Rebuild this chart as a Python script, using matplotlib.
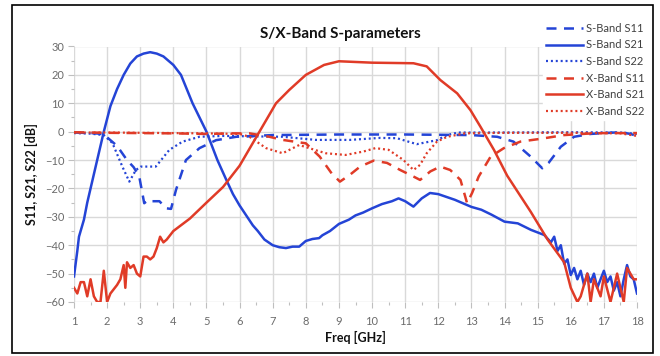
import matplotlib
matplotlib.use("Agg")
import matplotlib.pyplot as plt
from matplotlib.patches import Rectangle
from matplotlib.ticker import MultipleLocator

plt.rcParams['font.family'] = ['Lato', 'DejaVu Sans']

# ---------------- data ----------------
s21_s_f = [1.0, 1.1, 1.15, 1.3, 1.4, 1.5, 1.7, 1.9, 2.1, 2.3, 2.5, 2.7, 2.9, 3.1, 3.3, 3.5, 3.7, 3.85,
           4.0, 4.23, 4.58, 5.0, 5.33, 5.6, 5.8, 6.0, 6.2, 6.4, 6.55, 6.75, 7.0, 7.2, 7.4,
           7.6, 7.8, 8.0, 8.2, 8.4, 8.5, 8.73, 9.0, 9.3, 9.5, 9.73, 10.0, 10.3, 10.6, 10.8, 11.0, 11.25,
           11.5, 11.75, 12.0, 12.5, 13.0, 13.3, 13.6, 14.0, 14.4, 14.8, 15.2, 15.4, 15.5, 15.6, 15.7,
           15.8, 15.9, 16.0, 16.1, 16.2, 16.3, 16.4, 16.5, 16.6, 16.7, 16.8, 16.9, 17.0, 17.1, 17.2,
           17.3, 17.4, 17.5, 17.6, 17.7, 17.8, 17.9, 18.0]
s21_s_db = [-51, -42, -37, -31, -25, -20, -10, 0, 9, 15, 20, 24, 26.5, 27.5, 28, 27.5, 26.5, 25,
            23.5, 20, 10, 0, -10, -17, -22, -26, -29.5, -33, -35, -38, -40, -40.7, -41,
            -40.5, -40.5, -38.5, -37.8, -37.5, -36.5, -35, -32.5, -31, -29.5, -28.5, -27, -25.5, -24.5,
            -23.5, -24.5, -26.4, -23.5, -21.6, -22, -24, -26.5, -27.5, -29.2, -31.7, -32.3, -34.6,
            -36.4, -39, -37, -42, -40, -46.5, -45, -50.5, -48, -52, -49, -54, -50, -53, -50, -55, -52,
            -49, -53, -51, -56, -53, -58, -52, -47, -51, -52, -57]

s21_x_f = [1.0, 1.1, 1.2, 1.3, 1.4, 1.5, 1.6, 1.7, 1.8, 1.9, 2.0, 2.1, 2.3, 2.4, 2.5, 2.55, 2.6, 2.7,
           2.8, 2.9, 3.0, 3.1, 3.2, 3.3, 3.4, 3.5, 3.6, 3.7, 3.8, 4.0, 4.5, 5.0, 5.5, 6.0, 6.5, 7.1,
           7.5, 8.0, 8.55, 9.0, 10.0, 11.25, 11.65, 12.06, 12.57, 12.97, 13.27, 13.68, 14.08, 14.79,
           15.3, 15.8, 16.0, 16.2, 16.3, 16.5, 16.6, 16.7, 16.9, 17.0, 17.2, 17.4, 17.6, 17.7, 17.9, 18.0]
s21_x_db = [-55, -57, -53, -53, -58, -52, -58, -60, -60, -49, -60, -57, -54, -52, -47, -55, -46, -48,
            -47, -50, -51, -44, -44, -45, -44, -41, -37, -39, -38, -35, -30.6, -25, -19.5, -12, -2, 10,
            14.7, 20, 23.5, 24.8, 24.3, 24.1, 23, 18.2, 13.5, 7.6, 1.8, -6.4, -15.5, -28.2,
            -38, -46, -55, -60, -58, -50, -60, -52, -58, -51, -60, -50, -60, -48, -52, -52]

s11_s_f = [1.0, 1.5, 1.9, 2.0, 2.3, 2.6, 2.8, 2.97, 3.12, 3.25, 3.37, 3.58, 3.78, 3.93, 4.08, 4.38,
           4.79, 5.29, 5.9, 7.0, 9.0, 11.0, 12.0, 13.0, 13.78, 14.27, 14.79, 15.14, 15.33, 15.7,
           16.1, 16.6, 17.0, 17.5, 17.8, 18.0]
s11_s_db = [-0.3, -0.5, -0.8, -2, -5, -10, -12.5, -15.8, -25.2, -24, -24.5, -24.5, -27, -27.2, -20.5,
            -10, -5.8, -3, -1.8, -1.2, -1, -1, -1.1, -1.2, -1.8, -3.5, -8.8, -12.9, -11, -5.3,
            -1.8, -0.8, -0.5, -0.2, -0.8, -1.5]

s22_s_f = [1.0, 1.5, 1.9, 2.16, 2.46, 2.67, 2.87, 3.02, 3.47, 3.88, 4.28, 4.79, 5.5, 7.3, 8.3, 9.33,
           10.24, 10.75, 11.35, 11.96, 12.26, 12.6, 14.0, 16.0, 17.5, 18.0]
s22_s_db = [-0.5, -0.7, -1.2, -4, -12.3, -17.6, -13.5, -12.3, -12.3, -6.4, -3.5, -1.8, -1.5, -1.8, -2.9,
            -2.9, -2.2, -2.3, -4.4, -3, -1.2, -0.3, -0.3, -0.2, -0.3, -0.8]

s11_x_f = [1.0, 2.0, 3.0, 4.0, 5.0, 5.8, 6.3, 6.9, 7.3, 8.0, 8.42, 8.78, 9.03, 9.33, 9.64, 10.05,
           10.45, 10.85, 11.25, 11.45, 11.76, 12.06, 12.36, 12.67, 12.87, 13.02, 13.22, 13.58, 13.98,
           14.48, 15.1, 15.8, 16.5, 17.0, 18.0]
s11_x_db = [-0.2, -0.4, -0.5, -0.6, -0.8, -0.6, -0.6, -1.8, -2.9, -4.1, -8.8, -14.7, -17.6, -15.2, -12.3,
            -10.2, -11, -13.5, -15.8, -17, -14, -12.3, -13.5, -17, -25.2, -21.6, -15.8, -8.8, -5.8,
            -3.5, -2.5, -1.2, -0.7, -0.5, -0.5]

s22_x_f = [1.0, 2.0, 3.0, 4.0, 5.0, 6.0, 6.3, 6.8, 7.3, 7.8, 8.1, 8.6, 9.2, 9.74, 10.1, 10.5, 10.95,
           11.25, 11.45, 11.65, 11.96, 12.27, 12.8, 14.0, 16.0, 17.5, 18.0]
s22_x_db = [-0.3, -0.3, -0.4, -0.5, -0.6, -0.8, -1.8, -5.8, -7.6, -4.7, -5.8, -7.6, -8.2, -7, -5.8, -6.4,
            -10, -13.5, -11.7, -7.6, -3.5, -1.8, -0.6, -0.4, -0.4, -0.6, -1.5]

series_labels = ['S-Band S11', 'S-Band S21', 'S-Band S22', 'X-Band S11', 'X-Band S21', 'X-Band S22']
xticks = list(range(1, 19))
yticks = [-60, -50, -40, -30, -20, -10, 0, 10, 20, 30]

# ---------------- plot ----------------
BLUE = '#2444d6'
RED = '#e03b27'
fig = plt.figure(figsize=(6.6, 3.56), dpi=100)
ax = fig.add_axes([74/660, 1 - 302/356, (637 - 74)/660, (302 - 46.5)/356])

dash = (0, (4, 3))
dot = (0, (0.9, 1.3))
ax.plot(s11_s_f, s11_s_db, color=BLUE, lw=1.8, ls=dash, label=series_labels[0])
ax.plot(s21_s_f, s21_s_db, color=BLUE, lw=1.8, ls='-', label=series_labels[1])
ax.plot(s22_s_f, s22_s_db, color=BLUE, lw=1.6, ls=dot, label=series_labels[2])
ax.plot(s11_x_f, s11_x_db, color=RED, lw=1.8, ls=dash, label=series_labels[3])
ax.plot(s21_x_f, s21_x_db, color=RED, lw=1.8, ls='-', label=series_labels[4])
ax.plot(s22_x_f, s22_x_db, color=RED, lw=1.6, ls=dot, label=series_labels[5])

ax.set_xlim(1, 18)
ax.set_ylim(-60, 30)
ax.set_xticks(xticks)
ax.set_yticks(yticks)
ax.yaxis.set_minor_locator(MultipleLocator(5))
ax.xaxis.set_minor_locator(MultipleLocator(0.5))
ax.grid(True, which='major', color='#d9d9d9', lw=1.0)
ax.set_axisbelow(True)
for s in ax.spines.values():
    s.set_visible(False)
ax.tick_params(axis='both', which='major', colors='#bfbfbf', labelcolor='#6b6b6b',
               labelsize=8, length=4, width=0.8, pad=3)
ax.tick_params(axis='both', which='minor', colors='#bfbfbf', length=2, width=0.8)
ax.tick_params(axis='x', pad=6)

ax.set_xlabel('Freq [GHz]', fontsize=9, fontweight='bold', color='#111111', labelpad=3)
ax.set_ylabel('S11, S21, S22 [dB]', fontsize=9, fontweight='bold', color='#111111', labelpad=5)

fig.text(0.515, 0.905, 'S/X-Band S-parameters', ha='center', va='center',
         fontsize=11, fontweight='bold', color='#111111')

leg = fig.legend(loc='upper right', bbox_to_anchor=(0.982, 0.945), frameon=True,
                 fontsize=8, handlelength=3.3, handletextpad=0.3, labelspacing=0.5,
                 borderpad=0.3, borderaxespad=0)
leg.get_frame().set_facecolor('white')
leg.get_frame().set_edgecolor('white')
leg.get_frame().set_alpha(1)
for t in leg.get_texts():
    t.set_color('#404040')

fig.patches.append(Rectangle((12/660, 1 - 353/356), 641/660, 348/356, transform=fig.transFigure,
                             fill=False, edgecolor='black', lw=1.2))

fig.savefig('out.png', dpi=100)
